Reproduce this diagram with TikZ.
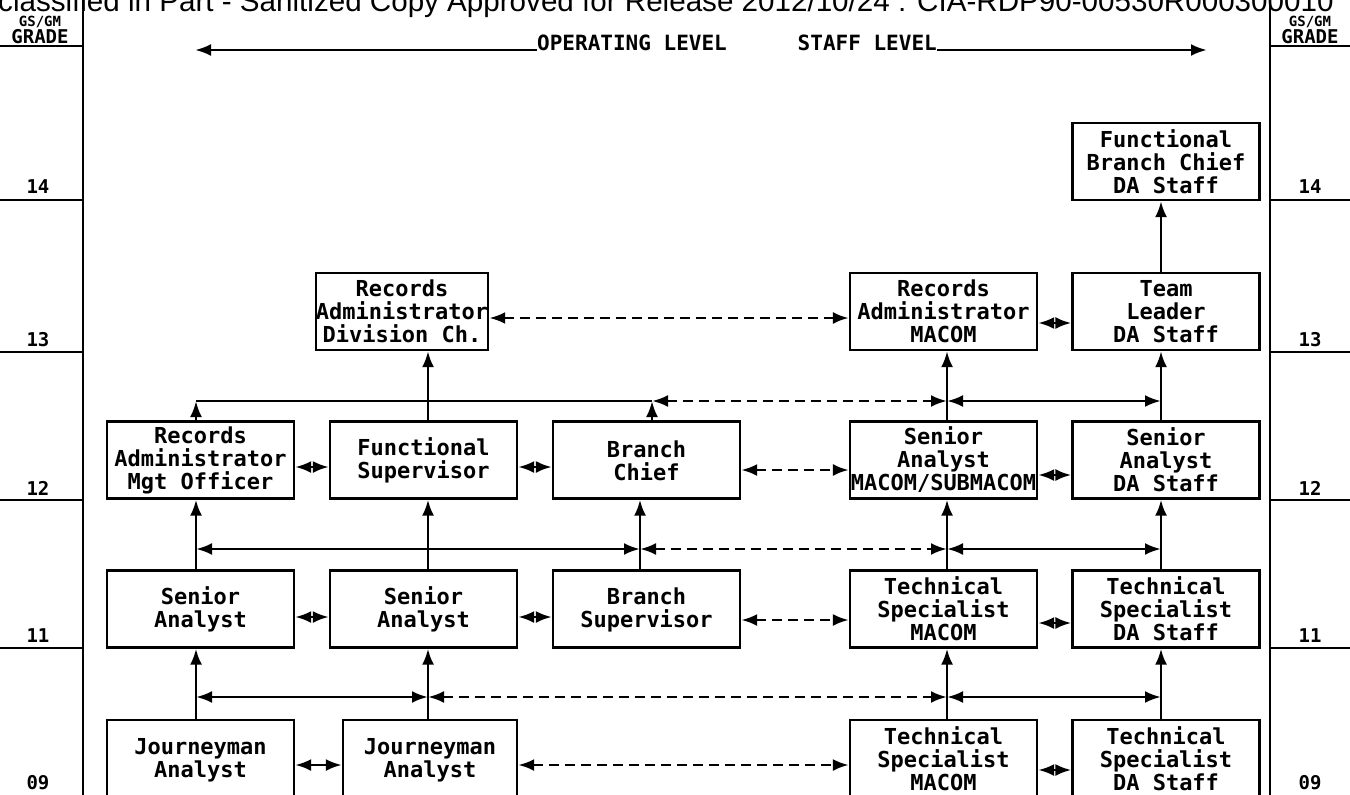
\documentclass[tikz,border=0pt]{standalone}
\usepackage{fontspec}
\setmainfont{Liberation Sans}
\newfontfamily\tw{DejaVu Sans Mono}
\usetikzlibrary{arrows.meta}
\begin{document}
\begin{tikzpicture}[x=1pt,y=-1pt,
  bx/.style={draw, line width=2.3pt, inner sep=0pt, align=center,
    font=\tw\bfseries\fontsize{22}{23}\selectfont,
    minimum height=77pt, minimum width=187pt},
  grd/.style={font=\tw\bfseries\fontsize{19}{20}\selectfont, inner sep=0pt},
  lvl/.style={font=\tw\bfseries\fontsize{21}{22}\selectfont, inner sep=0pt},
  rule/.style={line width=2pt},
  con/.style={line width=2.8pt},
  dsh/.style={line width=2.8pt, dash pattern=on 10pt off 6pt},
  arr/.style={-{Latex[length=16pt,width=12pt]}},
  darr/.style={{Latex[length=16pt,width=12pt]}-{Latex[length=16pt,width=12pt]}}
]
\useasboundingbox (0,0) rectangle (1350,795);
\clip (0,0) rectangle (1350,795);
\fill[white] (0,0) rectangle (1350,795);

% grade columns
\coordinate (ltop) at (83,0); \coordinate (lbot) at (83,795);
\coordinate (rtop) at (1270,0); \coordinate (rbot) at (1270,795);
\draw[rule] (ltop) -- (lbot);
\draw[rule] (rtop) -- (rbot);
\node[grd, font=\tw\bfseries\fontsize{14}{15}\selectfont] (gsl) at (40,22) {GS/GM};
\node[grd, font=\tw\bfseries\fontsize{14}{15}\selectfont] (gsr) at (1310,22) {GS/GM};
\node[grd] (grl) at (40,36.5) {GRADE};
\node[grd] (grr) at (1310,36.5) {GRADE};
\foreach \yy in {46,200,352,500,648}{
  \draw[rule] (0,\yy) -- (83,\yy);
  \draw[rule] (1270,\yy) -- (1350,\yy);
}
\foreach \yy/\lab/\nm in {187/14/g14,340/13/g13,488/12/g12,636/11/g11,783/09/g09}{
  \node[grd] (\nm l) at (38,\yy) {\lab};
  \node[grd] (\nm r) at (1310,\yy) {\lab};
}

% header (cut off at the top edge)
\node[anchor=base west, inner sep=0pt, font=\fontsize{29.6}{30}\selectfont] (hdr) at (-2,11)
  {classified in Part - Sanitized Copy Approved for Release 2012/10/24 : CIA-RDP90-00530R000300010};

% level arrows
\node[lvl, anchor=base west] (op) at (537,50) {OPERATING LEVEL};
\node[lvl, anchor=base east] (st) at (937,50) {STAFF LEVEL};
\coordinate (opend) at (195,50);
\coordinate (stend) at (1207,50);
\draw[con, arr] (op.base west) -- (opend);
\draw[con, arr] (st.base east) -- (stend);

% boxes
\node[bx] (fbc) at (1166,161.5) {Functional\\Branch Chief\\DA Staff};
\node[bx, minimum width=118pt] (radc) at (402,311.5) {Records\\Administrator\\Division Ch.};
\node[bx] (ram) at (943.5,311.5) {Records\\Administrator\\MACOM};
\node[bx] (tl) at (1166,311.5) {Team\\Leader\\DA Staff};

\node[bx] (ramo) at (200.5,460) {Records\\Administrator\\Mgt Officer};
\node[bx] (fs) at (423.5,460) {\mbox{}\\[-4pt]Functional\\Supervisor};
\node[bx] (bc) at (646.5,460) {\mbox{}\\[-4pt]Branch\\Chief};
\node[bx] (sam) at (943.5,460) {Senior\\Analyst\\MACOM/SUBMACOM};
\node[bx] (sad) at (1166,460) {Senior\\Analyst\\DA Staff};

\node[bx] (sa1) at (200.5,609) {\mbox{}\\[-4pt]Senior\\Analyst};
\node[bx] (sa2) at (423.5,609) {\mbox{}\\[-4pt]Senior\\Analyst};
\node[bx] (bs) at (646.5,609) {\mbox{}\\[-4pt]Branch\\Supervisor};
\node[bx] (tsm1) at (943.5,609) {Technical\\Specialist\\MACOM};
\node[bx] (tsd1) at (1166,609) {Technical\\Specialist\\DA Staff};

\node[bx] (ja1) at (200.5,758.5) {\mbox{}\\[-4pt]Journeyman\\Analyst};
\node[bx, minimum width=174pt] (ja2) at (430,758.5) {\mbox{}\\[-4pt]Journeyman\\Analyst};
\node[bx] (tsm2) at (943.5,758.5) {Technical\\Specialist\\MACOM};
\node[bx] (tsd2) at (1166,758.5) {Technical\\Specialist\\DA Staff};

% junction coordinates
\coordinate (a1) at (196,401); \coordinate (a2) at (428,401);
\coordinate (a3) at (652,401); \coordinate (a4) at (947,401); \coordinate (a5) at (1161,401);
\coordinate (b1) at (196,549); \coordinate (b2) at (428,549);
\coordinate (b3) at (640,549); \coordinate (b4) at (947,549); \coordinate (b5) at (1161,549);
\coordinate (c1) at (196,697); \coordinate (c2) at (428,697);
\coordinate (c4) at (947,697); \coordinate (c5) at (1161,697);

% verticals, upper
\draw[con, arr] (tl.north -| a5) -- (fbc.south -| a5);
\draw[con, arr] (fs.north -| a2) -- (radc.south -| a2);
\draw[con, arr] (ramo.north -| a1) -- (a1);
\draw[con, arr] (bc.north -| a3) -- (a3);
\draw[con, arr] (sam.north -| a4) -- (ram.south -| a4);
\draw[con, arr] (sad.north -| a5) -- (tl.south -| a5);
\draw[con] (a1) -- (a3);
\draw[dsh, darr] (a3) -- (a4);
\draw[con, darr] (a4) -- (a5);

% verticals, middle
\draw[con, arr] (sa1.north -| b1) -- (ramo.south -| b1);
\draw[con, arr] (sa2.north -| b2) -- (fs.south -| b2);
\draw[con, arr] (bs.north -| b3) -- (bc.south -| b3);
\draw[con, arr] (tsm1.north -| b4) -- (sam.south -| b4);
\draw[con, arr] (tsd1.north -| b5) -- (sad.south -| b5);
\draw[con, darr] (b1) -- (b3);
\draw[dsh, darr] (b3) -- (b4);
\draw[con, darr] (b4) -- (b5);

% verticals, lower
\draw[con, arr] (ja1.north -| c1) -- (sa1.south -| c1);
\draw[con, arr] (ja2.north -| c2) -- (sa2.south -| c2);
\draw[con, arr] (tsm2.north -| c4) -- (tsm1.south -| c4);
\draw[con, arr] (tsd2.north -| c5) -- (tsd1.south -| c5);
\draw[con, darr] (c1) -- (c2);
\draw[dsh, darr] (c2) -- (c4);
\draw[con, darr] (c4) -- (c5);

% row links
\coordinate (y13a) at (0,318); \coordinate (y13b) at (0,323);
\coordinate (y12a) at (0,467); \coordinate (y12b) at (0,470); \coordinate (y12c) at (0,475);
\coordinate (y11a) at (0,617); \coordinate (y11b) at (0,620); \coordinate (y11c) at (0,623);
\coordinate (y09a) at (0,765); \coordinate (y09b) at (0,770);

\draw[dsh, darr] (radc.east |- y13a) -- (ram.west |- y13a);
\draw[con, darr] (ram.east |- y13b) -- (tl.west |- y13b);

\draw[con, darr] (ramo.east |- y12a) -- (fs.west |- y12a);
\draw[con, darr] (fs.east |- y12a) -- (bc.west |- y12a);
\draw[dsh, darr] (bc.east |- y12b) -- (sam.west |- y12b);
\draw[con, darr] (sam.east |- y12c) -- (sad.west |- y12c);

\draw[con, darr] (sa1.east |- y11a) -- (sa2.west |- y11a);
\draw[con, darr] (sa2.east |- y11a) -- (bs.west |- y11a);
\draw[dsh, darr] (bs.east |- y11b) -- (tsm1.west |- y11b);
\draw[con, darr] (tsm1.east |- y11c) -- (tsd1.west |- y11c);

\draw[con, darr] (ja1.east |- y09a) -- (ja2.west |- y09a);
\draw[dsh, darr] (ja2.east |- y09a) -- (tsm2.west |- y09a);
\draw[con, darr] (tsm2.east |- y09b) -- (tsd2.west |- y09b);
\end{tikzpicture}
\end{document}
